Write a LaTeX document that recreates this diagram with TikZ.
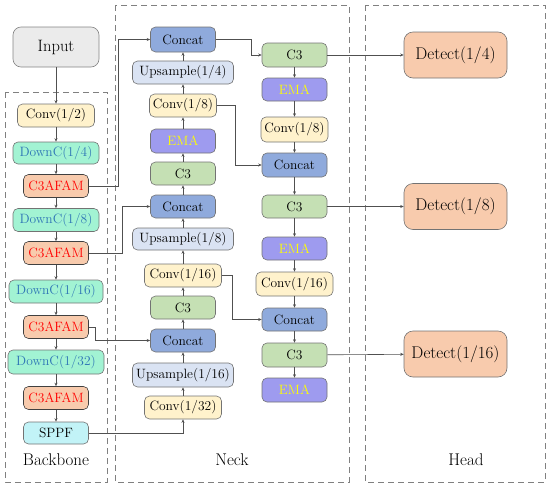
\documentclass[tikz,border=0pt]{standalone}
\usetikzlibrary{arrows.meta}
\definecolor{convc}{HTML}{FFF2CC}
\definecolor{downc}{HTML}{A2F3D3}
\definecolor{downt}{HTML}{2E75B6}
\definecolor{afamc}{HTML}{F8CBAD}
\definecolor{sppfc}{HTML}{C2F3F7}
\definecolor{concc}{HTML}{8FAADC}
\definecolor{upc}{HTML}{DAE3F3}
\definecolor{emac}{HTML}{9E9BEF}
\definecolor{emat}{HTML}{FFFF00}
\definecolor{c3c}{HTML}{C5E0B4}
\definecolor{inc}{HTML}{EBEBEB}
\definecolor{linec}{HTML}{505050}
\definecolor{dashc}{HTML}{808080}
\tikzset{
  blk/.style={draw=linec!80, line width=0.6pt, rounded corners=5pt, inner sep=0pt,
    font=\fontsize{13.5}{15}\selectfont, minimum height=23pt},
  convbox/.style={blk, fill=convc},
  downbox/.style={blk, fill=downc, text=downt},
  afambox/.style={blk, fill=afamc, text=red, draw=black!75, minimum width=65pt},
  sppfbox/.style={blk, fill=sppfc, minimum width=65pt},
  concbox/.style={blk, fill=concc, minimum width=65pt},
  upbox/.style={blk, fill=upc, minimum width=101pt},
  emabox/.style={blk, fill=emac, text=emat, minimum width=65pt},
  c3box/.style={blk, fill=c3c, minimum width=65pt},
  detbox/.style={blk, fill=afamc, rounded corners=9pt, minimum width=103pt, minimum height=46pt,
    font=\fontsize{17}{19}\selectfont},
  inbox/.style={blk, fill=inc, draw=linec!70, rounded corners=8pt, minimum width=86pt, minimum height=40pt,
    font=\fontsize{16.5}{18}\selectfont},
  arr/.style={draw=linec, line width=0.6pt, -{Stealth[length=3.5pt,width=3pt]}},
  grp/.style={draw=dashc, line width=1pt, dash pattern=on 6pt off 4pt},
  lbl/.style={font=\fontsize{17}{19}\selectfont, inner sep=0pt}
}
\begin{document}
\begin{tikzpicture}[x=1pt,y=-1pt]
\useasboundingbox (0,0) rectangle (550,488);
% groups
\draw[grp] (5,92) rectangle (107,482);
\draw[grp] (115,5) rectangle (349,482);
\draw[grp] (365,5) rectangle (545,482);
\node[lbl] (lb) at (56,460) {Backbone};
\node[lbl] (ln) at (232,460) {Neck};
\node[lbl] (lh) at (466,460) {Head};
% input
\node[inbox] (in) at (56,47) {Input};
% backbone
\node[convbox, minimum width=77pt] (b1) at (56,115.5) {Conv(1/2)};
\node[downbox, minimum width=86pt, minimum height=22pt] (b2) at (56,153) {DownC(1/4)};
\node[afambox] (b3) at (56,186) {C3AFAM};
\node[downbox, minimum width=86pt] (b4) at (56,220) {DownC(1/8)};
\node[afambox] (b5) at (56,253) {C3AFAM};
\node[downbox, minimum width=94pt] (b6) at (56,291.5) {DownC(1/16)};
\node[afambox] (b7) at (56,327) {C3AFAM};
\node[downbox, minimum width=96pt, minimum height=24pt] (b8) at (56,362) {DownC(1/32)};
\node[afambox] (b9) at (56,398) {C3AFAM};
\node[sppfbox, minimum height=22pt] (b10) at (56,433) {SPPF};
% neck column 1
\node[concbox, minimum height=25pt] (n1) at (183,39.5) {Concat};
\node[upbox] (n2) at (183,72.5) {Upsample(1/4)};
\node[convbox, minimum width=67pt] (n3) at (183,105.5) {Conv(1/8)};
\node[emabox, minimum height=24pt] (n4) at (183,141) {EMA};
\node[c3box] (n5) at (183,173.5) {C3};
\node[concbox] (n6) at (183,206.5) {Concat};
\node[upbox, minimum height=22pt] (n7) at (183,239) {Upsample(1/8)};
\node[convbox, minimum width=77pt] (n8) at (183,275.5) {Conv(1/16)};
\node[c3box] (n9) at (183,307.5) {C3};
\node[concbox] (n10) at (183,340.5) {Concat};
\node[upbox, minimum height=24pt] (n11) at (183,375) {Upsample(1/16)};
\node[convbox, minimum width=77pt] (n12) at (183,407.5) {Conv(1/32)};
% neck column 2
\node[c3box, minimum height=24pt] (m1) at (294.5,55) {C3};
\node[emabox] (m2) at (294.5,89.5) {EMA};
\node[convbox, minimum width=67pt, minimum height=25pt] (m3) at (294.5,129.5) {Conv(1/8)};
\node[concbox, minimum height=24pt] (m4) at (294.5,165) {Concat};
\node[c3box] (m5) at (294.5,206.5) {C3};
\node[emabox] (m6) at (294.5,248.5) {EMA};
\node[convbox, minimum width=77pt, minimum height=24pt] (m7) at (294.5,284) {Conv(1/16)};
\node[concbox] (m8) at (294.5,319.5) {Concat};
\node[c3box, minimum height=24pt] (m9) at (294.5,355) {C3};
\node[emabox, minimum height=24pt] (m10) at (294.5,390) {EMA};
% head
\node[detbox] (d1) at (455.5,55) {Detect(1/4)};
\node[detbox] (d2) at (455.5,206.5) {Detect(1/8)};
\node[detbox] (d3) at (455.5,354) {Detect(1/16)};
% backbone arrows
\draw[arr] (in) -- (b1);
\foreach \a/\b in {b1/b2,b2/b3,b3/b4,b4/b5,b5/b6,b6/b7,b7/b8,b8/b9,b9/b10}
  \draw[arr] (\a) -- (\b);
% neck col1 upward
\foreach \a/\b in {n12/n11,n11/n10,n10/n9,n9/n8,n8/n7,n7/n6,n6/n5,n5/n4,n4/n3,n3/n2,n2/n1}
  \draw[arr] (\a) -- (\b);
% neck col2 downward
\foreach \a/\b in {m1/m2,m2/m3,m3/m4,m4/m5,m5/m6,m6/m7,m7/m8,m8/m9,m9/m10}
  \draw[arr] (\a) -- (\b);
% lateral connections
\draw[arr] (b3.east) -- ++(29.5,0) |- (n1.west);
\draw[arr] (b5.east) -- ++(33.5,0) |- (n6.west);
\draw[arr] (b7.east) -- ++(6.5,0) |- (n10.west);
\draw[arr] (b10.east) -| (n12.south);
\draw[arr] (n1.east) -- ++(35,0) |- (m1.west);
\draw[arr] (n3.east) -- ++(18.5,0) |- (m4.west);
\draw[arr] (n8.east) -- ++(10,0) |- (m8.west);
\draw[arr] (m1) -- (d1);
\draw[arr] (m5) -- (d2);
\draw[arr] (m9) -- (d3);
\end{tikzpicture}
\end{document}
